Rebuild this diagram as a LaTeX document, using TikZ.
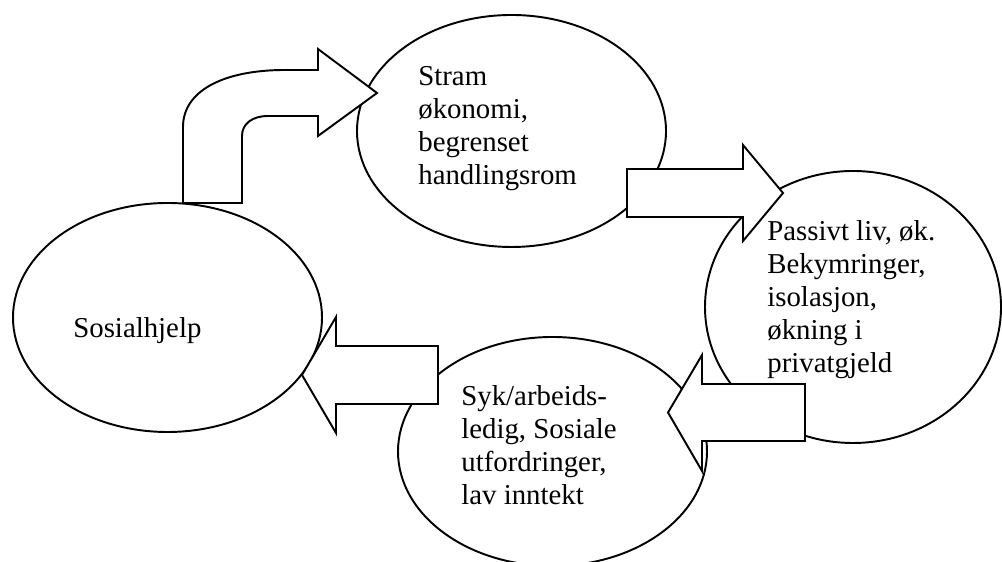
\documentclass[tikz,border=0pt]{standalone}
\usepackage{fontspec}
\setmainfont{Liberation Serif}
\usetikzlibrary{shapes.geometric}

\tikzset{
  bubble/.style={ellipse,draw=black,line width=1.1pt,inner sep=0pt},
  bubbletext/.style={anchor=base west,align=left,inner sep=0pt,font=\fontsize{16.4}{18.9}\selectfont},
  blockarrow/.style={draw=black,fill=white,line width=1.1pt,line join=miter}
}

\begin{document}
\begin{tikzpicture}
\useasboundingbox (0,0) rectangle (20.04,11.24);
% the four states
\node[bubble,minimum width=6.18cm,minimum height=4.58cm] (hjelp) at (3.35,4.89) {};
\node[bubble,minimum width=6.18cm,minimum height=4.64cm] (stram) at (10.23,8.62) {};
\node[bubble,minimum width=5.92cm,minimum height=5.44cm] (passiv) at (17.06,5.10) {};
\node[bubble,minimum width=6.18cm,minimum height=4.58cm] (syk) at (11.05,2.21) {};
% texts, placed at the baseline of their last line
\node[bubbletext] (hjelptxt) at (1.46,4.48) {Sosialhjelp};
\node[bubbletext] (stramtxt) at (8.36,7.54) {Stram\\økonomi,\\begrenset\\handlingsrom};
\node[bubbletext] (passivtxt) at (15.34,3.78) {Passivt liv, øk.\\Bekymringer,\\isolasjon,\\økning i\\privatgjeld};
\node[bubbletext] (syktxt) at (9.22,1.14) {Syk/arbeids-\\ledig, Sosiale\\utfordringer,\\lav inntekt};
% block arrows
\path[blockarrow] (3.66,7.18) -- (3.66,8.70) .. controls (3.66,9.44) and (4.50,9.84) .. (5.70,9.84)
  -- (6.36,9.84) -- (6.36,10.26) -- (7.54,9.38) -- (6.36,8.52) -- (6.36,8.92) -- (5.36,8.92)
  .. controls (5.04,8.92) and (4.84,8.76) .. (4.84,8.52) -- (4.84,7.18) -- cycle;
\path[blockarrow] (12.54,7.86) -- (14.86,7.86) -- (14.86,8.34) -- (15.66,7.38) -- (14.86,6.42)
  -- (14.86,6.90) -- (12.54,6.90) -- cycle;
\path[blockarrow] (16.10,3.56) -- (14.04,3.56) -- (14.04,4.14) -- (13.36,2.99) -- (14.04,1.82)
  -- (14.04,2.42) -- (16.10,2.42) -- cycle;
\path[blockarrow] (8.76,4.32) -- (6.72,4.32) -- (6.72,4.90) -- (6.04,3.74) -- (6.72,2.58)
  -- (6.72,3.16) -- (8.76,3.16) -- cycle;
\end{tikzpicture}
\end{document}
